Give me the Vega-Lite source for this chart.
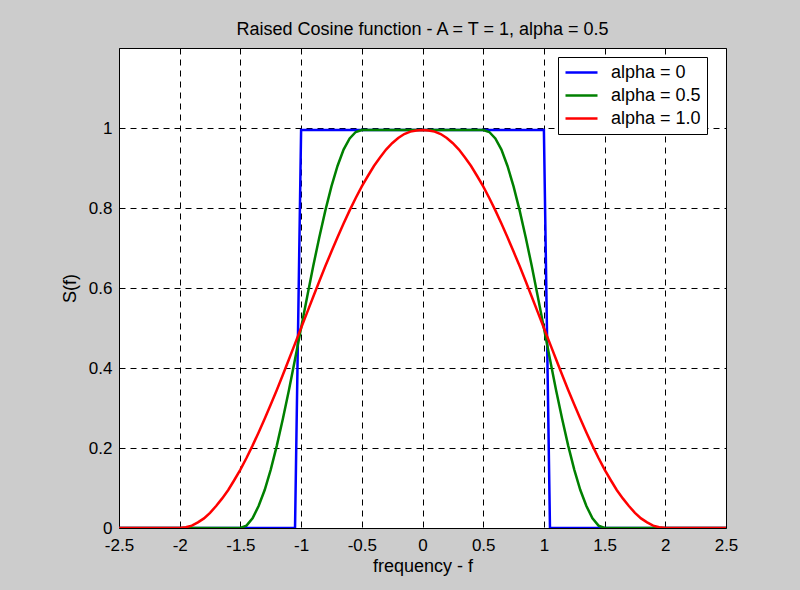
{
  "$schema": "https://vega.github.io/schema/vega-lite/v6.json",
  "width": 607,
  "height": 480,
  "autosize": {"type": "none"},
  "padding": {"left": 119, "top": 48, "right": 74, "bottom": 62},
  "background": "#cccccc",
  "title": {"text": "Raised Cosine function - A = T = 1, alpha = 0.5", "fontSize": 18, "font": "Liberation Sans", "fontWeight": "normal", "color": "black", "offset": 9, "anchor": "middle"},
  "config": {
    "view": {"fill": "white", "stroke": "black", "strokeWidth": 1},
    "axis": {"labelFont": "Liberation Sans", "labelFontSize": 17, "labelColor": "black", "titleFont": "Liberation Sans", "titleFontSize": 18, "titleFontWeight": "normal", "titleColor": "black", "grid": true, "gridColor": "black", "gridDash": [6, 5], "gridOpacity": 1, "gridWidth": 1, "domain": false, "tickColor": "black", "tickSize": 0}
  },
  "data": {"values": [
    {"f": -2.5, "S": 0, "a": "alpha = 0"}, {"f": -1.05, "S": 0, "a": "alpha = 0"}, {"f": -1, "S": 0.995, "a": "alpha = 0"}, {"f": 1, "S": 0.995, "a": "alpha = 0"}, {"f": 1.05, "S": 0, "a": "alpha = 0"}, {"f": 2.5, "S": 0, "a": "alpha = 0"},
    {"f": -2.5, "S": 0, "a": "alpha = 0.5"}, {"f": -1.5, "S": 0, "a": "alpha = 0.5"}, {"f": -1.45, "S": 0.006, "a": "alpha = 0.5"}, {"f": -1.4, "S": 0.024, "a": "alpha = 0.5"}, {"f": -1.35, "S": 0.055, "a": "alpha = 0.5"}, {"f": -1.3, "S": 0.095, "a": "alpha = 0.5"}, {"f": -1.25, "S": 0.146, "a": "alpha = 0.5"}, {"f": -1.2, "S": 0.206, "a": "alpha = 0.5"}, {"f": -1.15, "S": 0.273, "a": "alpha = 0.5"}, {"f": -1.1, "S": 0.345, "a": "alpha = 0.5"}, {"f": -1.05, "S": 0.422, "a": "alpha = 0.5"}, {"f": -1, "S": 0.5, "a": "alpha = 0.5"}, {"f": -0.95, "S": 0.578, "a": "alpha = 0.5"}, {"f": -0.9, "S": 0.655, "a": "alpha = 0.5"}, {"f": -0.85, "S": 0.727, "a": "alpha = 0.5"}, {"f": -0.8, "S": 0.794, "a": "alpha = 0.5"}, {"f": -0.75, "S": 0.854, "a": "alpha = 0.5"}, {"f": -0.7, "S": 0.905, "a": "alpha = 0.5"}, {"f": -0.65, "S": 0.946, "a": "alpha = 0.5"}, {"f": -0.6, "S": 0.974, "a": "alpha = 0.5"}, {"f": -0.55, "S": 0.99, "a": "alpha = 0.5"}, {"f": -0.5, "S": 0.995, "a": "alpha = 0.5"},
    {"f": 0.5, "S": 0.995, "a": "alpha = 0.5"}, {"f": 0.55, "S": 0.99, "a": "alpha = 0.5"}, {"f": 0.6, "S": 0.974, "a": "alpha = 0.5"}, {"f": 0.65, "S": 0.946, "a": "alpha = 0.5"}, {"f": 0.7, "S": 0.905, "a": "alpha = 0.5"}, {"f": 0.75, "S": 0.854, "a": "alpha = 0.5"}, {"f": 0.8, "S": 0.794, "a": "alpha = 0.5"}, {"f": 0.85, "S": 0.727, "a": "alpha = 0.5"}, {"f": 0.9, "S": 0.655, "a": "alpha = 0.5"}, {"f": 0.95, "S": 0.578, "a": "alpha = 0.5"}, {"f": 1, "S": 0.5, "a": "alpha = 0.5"}, {"f": 1.05, "S": 0.422, "a": "alpha = 0.5"}, {"f": 1.1, "S": 0.345, "a": "alpha = 0.5"}, {"f": 1.15, "S": 0.273, "a": "alpha = 0.5"}, {"f": 1.2, "S": 0.206, "a": "alpha = 0.5"}, {"f": 1.25, "S": 0.146, "a": "alpha = 0.5"}, {"f": 1.3, "S": 0.095, "a": "alpha = 0.5"}, {"f": 1.35, "S": 0.055, "a": "alpha = 0.5"}, {"f": 1.4, "S": 0.024, "a": "alpha = 0.5"}, {"f": 1.45, "S": 0.006, "a": "alpha = 0.5"}, {"f": 1.5, "S": 0, "a": "alpha = 0.5"}, {"f": 2.5, "S": 0, "a": "alpha = 0.5"},
    {"f": -2.5, "S": 0, "a": "alpha = 1.0"}, {"f": -2, "S": 0, "a": "alpha = 1.0"}, {"f": -1.95, "S": 0.002, "a": "alpha = 1.0"}, {"f": -1.9, "S": 0.006, "a": "alpha = 1.0"}, {"f": -1.85, "S": 0.014, "a": "alpha = 1.0"}, {"f": -1.8, "S": 0.024, "a": "alpha = 1.0"}, {"f": -1.75, "S": 0.038, "a": "alpha = 1.0"}, {"f": -1.7, "S": 0.055, "a": "alpha = 1.0"}, {"f": -1.65, "S": 0.074, "a": "alpha = 1.0"}, {"f": -1.6, "S": 0.095, "a": "alpha = 1.0"}, {"f": -1.55, "S": 0.12, "a": "alpha = 1.0"}, {"f": -1.5, "S": 0.146, "a": "alpha = 1.0"}, {"f": -1.45, "S": 0.175, "a": "alpha = 1.0"}, {"f": -1.4, "S": 0.206, "a": "alpha = 1.0"}, {"f": -1.35, "S": 0.239, "a": "alpha = 1.0"}, {"f": -1.3, "S": 0.273, "a": "alpha = 1.0"}, {"f": -1.25, "S": 0.309, "a": "alpha = 1.0"}, {"f": -1.2, "S": 0.345, "a": "alpha = 1.0"}, {"f": -1.15, "S": 0.383, "a": "alpha = 1.0"}, {"f": -1.1, "S": 0.422, "a": "alpha = 1.0"}, {"f": -1.05, "S": 0.461, "a": "alpha = 1.0"}, {"f": -1, "S": 0.5, "a": "alpha = 1.0"}, {"f": -0.95, "S": 0.539, "a": "alpha = 1.0"}, {"f": -0.9, "S": 0.578, "a": "alpha = 1.0"}, {"f": -0.85, "S": 0.617, "a": "alpha = 1.0"}, {"f": -0.8, "S": 0.655, "a": "alpha = 1.0"}, {"f": -0.75, "S": 0.691, "a": "alpha = 1.0"}, {"f": -0.7, "S": 0.727, "a": "alpha = 1.0"}, {"f": -0.65, "S": 0.761, "a": "alpha = 1.0"}, {"f": -0.6, "S": 0.794, "a": "alpha = 1.0"}, {"f": -0.55, "S": 0.825, "a": "alpha = 1.0"}, {"f": -0.5, "S": 0.854, "a": "alpha = 1.0"}, {"f": -0.45, "S": 0.88, "a": "alpha = 1.0"}, {"f": -0.4, "S": 0.905, "a": "alpha = 1.0"}, {"f": -0.35, "S": 0.926, "a": "alpha = 1.0"}, {"f": -0.3, "S": 0.946, "a": "alpha = 1.0"}, {"f": -0.25, "S": 0.962, "a": "alpha = 1.0"}, {"f": -0.2, "S": 0.975, "a": "alpha = 1.0"}, {"f": -0.15, "S": 0.985, "a": "alpha = 1.0"}, {"f": -0.1, "S": 0.991, "a": "alpha = 1.0"}, {"f": -0.05, "S": 0.994, "a": "alpha = 1.0"}, {"f": 0, "S": 0.995, "a": "alpha = 1.0"},
    {"f": 0.05, "S": 0.994, "a": "alpha = 1.0"}, {"f": 0.1, "S": 0.991, "a": "alpha = 1.0"}, {"f": 0.15, "S": 0.985, "a": "alpha = 1.0"}, {"f": 0.2, "S": 0.975, "a": "alpha = 1.0"}, {"f": 0.25, "S": 0.962, "a": "alpha = 1.0"}, {"f": 0.3, "S": 0.946, "a": "alpha = 1.0"}, {"f": 0.35, "S": 0.926, "a": "alpha = 1.0"}, {"f": 0.4, "S": 0.905, "a": "alpha = 1.0"}, {"f": 0.45, "S": 0.88, "a": "alpha = 1.0"}, {"f": 0.5, "S": 0.854, "a": "alpha = 1.0"}, {"f": 0.55, "S": 0.825, "a": "alpha = 1.0"}, {"f": 0.6, "S": 0.794, "a": "alpha = 1.0"}, {"f": 0.65, "S": 0.761, "a": "alpha = 1.0"}, {"f": 0.7, "S": 0.727, "a": "alpha = 1.0"}, {"f": 0.75, "S": 0.691, "a": "alpha = 1.0"}, {"f": 0.8, "S": 0.655, "a": "alpha = 1.0"}, {"f": 0.85, "S": 0.617, "a": "alpha = 1.0"}, {"f": 0.9, "S": 0.578, "a": "alpha = 1.0"}, {"f": 0.95, "S": 0.539, "a": "alpha = 1.0"}, {"f": 1, "S": 0.5, "a": "alpha = 1.0"}, {"f": 1.05, "S": 0.461, "a": "alpha = 1.0"}, {"f": 1.1, "S": 0.422, "a": "alpha = 1.0"}, {"f": 1.15, "S": 0.383, "a": "alpha = 1.0"}, {"f": 1.2, "S": 0.345, "a": "alpha = 1.0"}, {"f": 1.25, "S": 0.309, "a": "alpha = 1.0"}, {"f": 1.3, "S": 0.273, "a": "alpha = 1.0"}, {"f": 1.35, "S": 0.239, "a": "alpha = 1.0"}, {"f": 1.4, "S": 0.206, "a": "alpha = 1.0"}, {"f": 1.45, "S": 0.175, "a": "alpha = 1.0"}, {"f": 1.5, "S": 0.146, "a": "alpha = 1.0"}, {"f": 1.55, "S": 0.12, "a": "alpha = 1.0"}, {"f": 1.6, "S": 0.095, "a": "alpha = 1.0"}, {"f": 1.65, "S": 0.074, "a": "alpha = 1.0"}, {"f": 1.7, "S": 0.055, "a": "alpha = 1.0"}, {"f": 1.75, "S": 0.038, "a": "alpha = 1.0"}, {"f": 1.8, "S": 0.024, "a": "alpha = 1.0"}, {"f": 1.85, "S": 0.014, "a": "alpha = 1.0"}, {"f": 1.9, "S": 0.006, "a": "alpha = 1.0"}, {"f": 1.95, "S": 0.002, "a": "alpha = 1.0"}, {"f": 2, "S": 0, "a": "alpha = 1.0"}, {"f": 2.5, "S": 0, "a": "alpha = 1.0"}
  ]},
  "mark": {"type": "line", "strokeWidth": 2.5, "clip": true},
  "encoding": {
    "x": {"field": "f", "type": "quantitative", "scale": {"domain": [-2.5, 2.5], "nice": false, "zero": false},
      "axis": {"title": "frequency - f", "values": [-2.5, -2, -1.5, -1, -0.5, 0, 0.5, 1, 1.5, 2, 2.5], "labelExpr": "toString(datum.value)", "labelPadding": 9, "titlePadding": 4, "labelFlush": false, "labelOverlap": false}},
    "y": {"field": "S", "type": "quantitative", "scale": {"domain": [0, 1.2], "nice": false},
      "axis": {"title": "S(f)", "values": [0, 0.2, 0.4, 0.6, 0.8, 1], "labelExpr": "toString(datum.value)", "labelPadding": 7, "titlePadding": 9, "labelFlush": false, "labelOverlap": false}},
    "color": {"field": "a", "type": "nominal",
      "scale": {"domain": ["alpha = 0", "alpha = 0.5", "alpha = 1.0"], "range": ["#0000ff", "#008000", "#ff0000"]},
      "legend": {"title": null, "orient": "none", "legendX": 439, "legendY": 9, "fillColor": "white", "strokeColor": "black", "padding": 6, "symbolType": "M-1,0H3", "symbolSize": 256, "symbolStrokeWidth": 2.5, "labelFontSize": 18, "labelFont": "Liberation Sans", "labelColor": "black", "labelOffset": 28, "rowPadding": 4, "cornerRadius": 0, "labelLimit": 300, "labelExpr": "datum.label + '\u00a0\u00a0'"}}
  }
}
